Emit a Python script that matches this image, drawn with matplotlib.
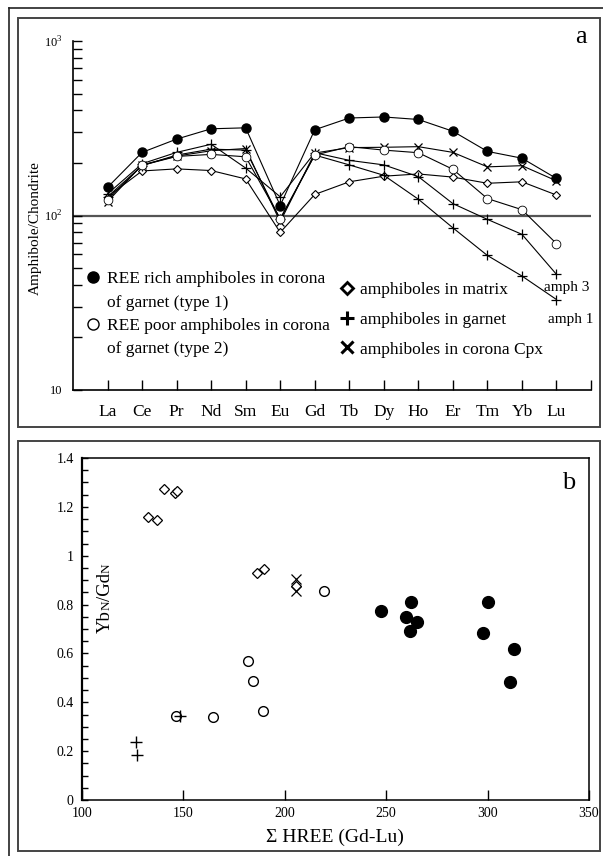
import matplotlib
matplotlib.use("Agg")
import matplotlib.pyplot as plt
from matplotlib.lines import Line2D
from matplotlib.patches import Rectangle
from matplotlib.ticker import FixedLocator, LogLocator, NullFormatter, MultipleLocator
from matplotlib.transforms import IdentityTransform

plt.rcParams['font.family'] = ['Liberation Serif', 'DejaVu Serif']
plt.rcParams['mathtext.fontset'] = 'custom'
plt.rcParams['mathtext.rm'] = 'Liberation Serif'

# --- panel a: chondrite normalised REE patterns ---
ree = ['La', 'Ce', 'Pr', 'Nd', 'Sm', 'Eu', 'Gd', 'Tb', 'Dy', 'Ho', 'Er', 'Tm', 'Yb', 'Lu']
rich_type1 = [145, 230, 274, 314, 318, 114, 310, 362, 367, 355, 304, 233, 213, 163]
poor_type2 = [123, 194, 218, 224, 217, 96, 222, 248, 237, 229, 184, 125, 108, 69]
in_matrix = [128, 180, 185, 181, 162, 80, 132, 156, 168, 173, 166, 153, 156, 131]
garnet_amph3 = [133, 198, 230, 256, 187, 128, 229, 207, 195, 167, 117, 95, 78, 46]
garnet_amph1 = [128, 193, 222, 240, 237, 95, 222, 195, 170, 124, 85, 59, 45, 33]
corona_cpx = [120, 195, 219, 235, 242, 92, 228, 245, 246, 248, 230, 190, 193, 158]

# --- panel b: YbN/GdN vs sum HREE ---
matrix_hree = [140.6, 145.9, 146.9, 132.6, 137.0, 186.4, 189.8, 205.6]
matrix_ratio = [1.275, 1.255, 1.265, 1.16, 1.145, 0.93, 0.945, 0.877]
cpx_hree = [205.6, 205.6]
cpx_ratio = [0.903, 0.855]
type2_hree = [219.3, 182.0, 184.5, 189.4, 164.4, 146.5]
type2_ratio = [0.857, 0.571, 0.487, 0.364, 0.340, 0.345]
garnet_hree = [148.4, 126.4, 127.1]
garnet_ratio = [0.345, 0.238, 0.186]
type1_hree = [247.5, 262.3, 260.0, 265.4, 261.5, 300.3, 297.5, 312.8, 310.8]
type1_ratio = [0.773, 0.812, 0.748, 0.727, 0.693, 0.812, 0.682, 0.617, 0.481]

W, H = 603, 856
fig = plt.figure(figsize=(W / 100, H / 100), dpi=100)


def fx(px):
    return px / W


def fy(py):
    return 1 - py / H


# page borders and panel frames
fig.add_artist(Line2D([fx(9), fx(603)], [fy(8), fy(8)], color='#222', lw=1.2))
fig.add_artist(Line2D([fx(9), fx(9)], [fy(8), fy(856)], color='#222', lw=1.2))
for top, bot in [(18, 427), (441, 851)]:
    fig.add_artist(Rectangle((fx(18), fy(bot)), fx(600) - fx(18), fy(top) - fy(bot),
                             fill=False, ec='#444', lw=1.4, transform=fig.transFigure))

ax_a = fig.add_axes([fx(73), fy(390), fx(591) - fx(73), fy(41) - fy(390)])
ax_b = fig.add_axes([fx(82), fy(800), fx(589) - fx(82), fy(458) - fy(800)])

x = list(range(len(ree)))
ax_a.axhline(100, color='#555', lw=1.6, zorder=1)
ax_a.plot(x, in_matrix, color='k', lw=0.8, marker='D', ms=4, mfc='w', mec='k', mew=0.8, zorder=3)
ax_a.plot(x, garnet_amph1, color='k', lw=0.8, marker='+', ms=7, mew=0.9, zorder=3)
ax_a.plot(x, garnet_amph3, color='k', lw=0.8, marker='+', ms=7, mew=0.9, zorder=3)
ax_a.plot(x, corona_cpx, color='k', lw=0.8, marker='x', ms=6, mew=0.9, zorder=3)
ax_a.plot(x, poor_type2, color='k', lw=0.8, marker='o', ms=6.3, mfc='w', mec='k', mew=0.6, zorder=4)
ax_a.plot(x, rich_type1, color='k', lw=0.8, marker='o', ms=6.5, mfc='k', mec='k', zorder=5)

ax_a.set_yscale('log')
ax_a.set_ylim(10, 1000)
ax_a.set_xlim(-1, 14)
ax_a.yaxis.set_major_locator(FixedLocator([10, 100, 1000]))
ax_a.set_yticklabels(['10', '$10^2$', '$10^3$'])
ax_a.yaxis.set_minor_locator(LogLocator(subs=range(2, 10)))
ax_a.yaxis.set_minor_formatter(NullFormatter())
ax_a.set_xticks(range(15))
ax_a.set_xticklabels(ree + [''])
ax_a.tick_params(axis='y', which='both', direction='in', length=6.5, width=1, labelsize=9, pad=7.5)
ax_a.tick_params(axis='x', direction='in', length=7, width=1, labelsize=12.5, pad=10)
ax_a.spines['top'].set_visible(False)
ax_a.spines['right'].set_visible(False)
for s in ['left', 'bottom']:
    ax_a.spines[s].set_linewidth(1.2)

ax_a.text(12.64, 38.9, 'amph 3', fontsize=11, ha='left', va='center')
ax_a.text(12.75, 25.2, 'amph 1', fontsize=11, ha='left', va='center')

blank = Line2D([], [], ls='none')
h1 = [Line2D([], [], ls='none', marker='o', ms=8, mfc='k', mec='k'), blank,
      Line2D([], [], ls='none', marker='o', ms=8, mfc='w', mec='k', mew=1), blank]
l1 = ['REE rich amphiboles in corona', 'of garnet (type 1)',
      'REE poor amphiboles in corona', 'of garnet (type 2)']
leg1 = ax_a.legend(h1, l1, loc='upper left', bbox_to_anchor=(fx(84), fy(271)),
                   bbox_transform=fig.transFigure, frameon=False, fontsize=12.5,
                   handlelength=1.0, handletextpad=0.35, labelspacing=0.42,
                   borderpad=0, borderaxespad=0)
ax_a.add_artist(leg1)
h2 = [Line2D([], [], ls='none', marker='D', ms=6, mfc='w', mec='k', mew=2),
      Line2D([], [], ls='none', marker='+', ms=10, mec='k', mew=2.2),
      Line2D([], [], ls='none', marker='x', ms=8, mec='k', mew=2.2)]
l2 = ['amphiboles in matrix', 'amphiboles in garnet', 'amphiboles in corona Cpx']
ax_a.legend(h2, l2, loc='upper left', bbox_to_anchor=(fx(339), fy(282)),
            bbox_transform=fig.transFigure, frameon=False, fontsize=12.5,
            handlelength=0.9, handletextpad=0.3, labelspacing=0.78,
            borderpad=0, borderaxespad=0)

fig.text(fx(35), fy(228), 'Amphibole/Chondrite', rotation=90, fontsize=11,
         ha='center', va='center')
fig.text(fx(581), fy(37), 'a', fontsize=19, ha='center', va='center')

# panel b
ax_b.plot(matrix_hree, matrix_ratio, ls='none', marker='D', ms=5, mfc='w', mec='k', mew=0.9)
ax_b.plot(cpx_hree, cpx_ratio, ls='none', marker='x', ms=7, mec='k', mew=0.9)
ax_b.plot(type2_hree, type2_ratio, ls='none', marker='o', ms=7, mfc='w', mec='k', mew=1)
ax_b.plot(garnet_hree, garnet_ratio, ls='none', marker='+', ms=8, mec='k', mew=1)
ax_b.plot(type1_hree, type1_ratio, ls='none', marker='o', ms=8.5, mfc='k', mec='k')

ax_b.set_xlim(100, 350)
ax_b.set_ylim(0, 1.4)
ax_b.set_xticks([100, 150, 200, 250, 300, 350])
ax_b.set_yticks([0, 0.2, 0.4, 0.6, 0.8, 1.0, 1.2, 1.4])
ax_b.set_yticklabels(['0', '0.2', '0.4', '0.6', '0.8', '1', '1.2', '1.4'])
ax_b.yaxis.set_minor_locator(MultipleLocator(0.05))
ax_b.tick_params(axis='x', direction='in', length=7, width=1, labelsize=10, pad=5)
ax_b.tick_params(axis='y', which='both', direction='in', length=4.5, width=1, labelsize=10, pad=6)
for s in ax_b.spines.values():
    s.set_linewidth(1.1)
ax_b.spines['left'].set_linewidth(1.6)

fig.text(fx(335), fy(837), 'Σ HREE (Gd-Lu)', fontsize=14, ha='center', va='center')
fig.text(fx(569), fy(483), 'b', fontsize=19, ha='center', va='center')

# y label of panel b: Yb(N)/Gd(N) with small N, built piece by piece
fig.canvas.draw()
renderer = fig.canvas.get_renderer()
lx, ly = 110, H - 633
for txt, size in [('Yb', 13.5), ('N', 9.5), ('/Gd', 13.5), ('N', 9.5)]:
    t = fig.text(lx, ly, txt, fontsize=size, rotation=90, rotation_mode='anchor',
                 ha='left', va='baseline', transform=IdentityTransform())
    ly += t.get_window_extent(renderer).height

fig.savefig('out.png', dpi=100)
